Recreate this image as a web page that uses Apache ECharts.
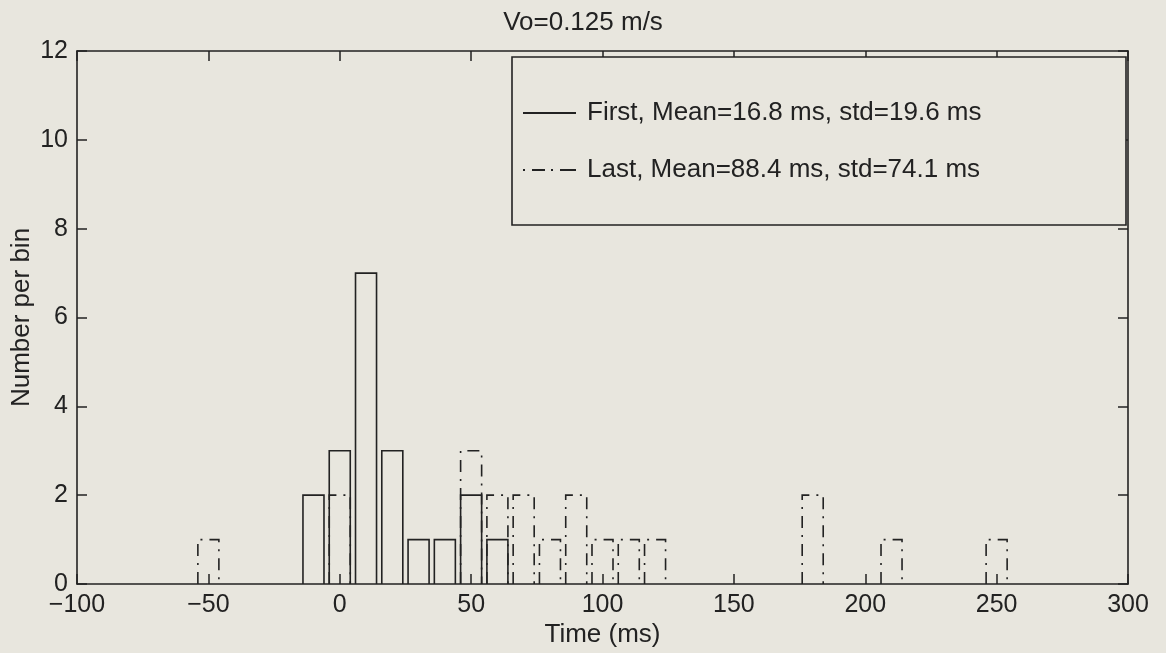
<!DOCTYPE html>
<html>
<head>
<meta charset="utf-8">
<script src="https://cdn.jsdelivr.net/npm/echarts@6/dist/echarts.min.js"></script>
<style>
  html, body { margin: 0; padding: 0; background: #e8e6de; }
  #chart { width: 1166px; height: 653px; }
</style>
</head>
<body>
<div id="chart"></div>
<script>
// ---- data ----
const titleText = 'Vo=0.125 m/s';
const xName = 'Time (ms)';
const yName = 'Number per bin';
const firstName = 'First, Mean=16.8 ms, std=19.6 ms';
const lastName = 'Last, Mean=88.4 ms, std=74.1 ms';
const firstBins = [-10, 0, 10, 20, 30, 40, 50, 60];
const firstCounts = [2, 3, 7, 3, 1, 1, 2, 1];
const lastBins = [-50, 0, 50, 60, 70, 80, 90, 100, 110, 120, 180, 210, 250];
const lastCounts = [1, 2, 3, 2, 2, 1, 2, 1, 1, 1, 2, 1, 1];
const xTicks = [-100, -50, 0, 50, 100, 150, 200, 250, 300];
const yTicks = [0, 2, 4, 6, 8, 10, 12];

// ---- style ----
const ink = '#222222';
const bg = '#e8e6de';
const font = '"Liberation Sans", Arial, Helvetica, sans-serif';
const barHalfWidth = 4; // bar width 0.8 of a 10 ms bin
const dashDot = [12, 7, 2, 7];

function outlineBars(dash) {
  return function (params, api) {
    const c = api.value(0), v = api.value(1);
    const bl = api.coord([c - barHalfWidth, 0]);
    const tl = api.coord([c - barHalfWidth, v]);
    const tr = api.coord([c + barHalfWidth, v]);
    const br = api.coord([c + barHalfWidth, 0]);
    return {
      type: 'polyline',
      shape: { points: [bl, tl, tr, br] },
      style: { stroke: ink, lineWidth: 1.6, fill: null, lineDash: dash || null }
    };
  };
}

const chart = echarts.init(document.getElementById('chart'), null, { renderer: 'canvas' });
const axisCommon = {
  axisLine: { show: true, onZero: false, lineStyle: { color: ink, width: 1.6 } },
  axisTick: { show: true, inside: true, length: 10, lineStyle: { color: ink, width: 1.5 } },
  splitLine: { show: false }
};

chart.setOption({
  backgroundColor: bg,
  animation: false,
  textStyle: { fontFamily: font, color: ink },
  title: {
    text: titleText, left: 'center', top: 5,
    textStyle: { fontFamily: font, fontSize: 26, fontWeight: 'normal', color: ink, lineHeight: 26 }
  },
  grid: { left: 77, right: 38, top: 51, bottom: 69, containLabel: false, outerBoundsMode: 'none' },
  xAxis: [
    Object.assign({
      type: 'value', min: xTicks[0], max: xTicks[xTicks.length - 1], interval: 50,
      position: 'bottom',
      name: xName, nameLocation: 'middle', nameGap: 38, nameMoveOverlap: false,
      nameTextStyle: { fontFamily: font, fontSize: 26, color: ink, lineHeight: 26 },
      axisLabel: { show: true, margin: 9, fontFamily: font, fontSize: 25, color: ink,
        formatter: v => (v < 0 ? '\u2212' + Math.abs(v) : String(v)) }
    }, axisCommon),
    Object.assign({
      type: 'value', min: xTicks[0], max: xTicks[xTicks.length - 1], interval: 50,
      position: 'top', axisLabel: { show: false }
    }, axisCommon)
  ],
  yAxis: [
    Object.assign({
      type: 'value', min: yTicks[0], max: yTicks[yTicks.length - 1], interval: 2,
      position: 'left',
      name: yName, nameLocation: 'middle', nameGap: 42, nameRotate: 90, nameMoveOverlap: false,
      nameTextStyle: { fontFamily: font, fontSize: 26, color: ink, lineHeight: 26 },
      axisLabel: { show: true, margin: 9, fontFamily: font, fontSize: 25, color: ink }
    }, axisCommon),
    Object.assign({
      type: 'value', min: yTicks[0], max: yTicks[yTicks.length - 1], interval: 2,
      position: 'right', axisLabel: { show: false }
    }, axisCommon)
  ],
  legend: {
    orient: 'vertical', left: 523, top: 98, padding: 0, z: 10,
    itemWidth: 53, itemHeight: 2, itemGap: 27,
    selectedMode: false,
    textStyle: { fontFamily: font, fontSize: 26, color: ink, lineHeight: 30, padding: [0, 0, 0, 6] },
    data: [
      { name: firstName, icon: 'path://M0,0H53V2H0Z', itemStyle: { color: ink, borderWidth: 0 } },
      { name: lastName, icon: 'path://M0,0h2v2h-2z M9,0h13v2h-13z M28,0h2v2h-2z M37,0h16v2h-16z',
        itemStyle: { color: ink, borderWidth: 0 } }
    ]
  },
  graphic: [{
    type: 'rect', z: 1,
    shape: { x: 512, y: 57, width: 614, height: 168 },
    style: { fill: bg, stroke: ink, lineWidth: 1.6 }
  }],
  series: [
    {
      name: firstName, type: 'custom', xAxisIndex: 0, yAxisIndex: 0,
      itemStyle: { color: ink },
      renderItem: outlineBars(null),
      data: firstBins.map((b, i) => [b, firstCounts[i]]),
      z: 3
    },
    {
      name: lastName, type: 'custom', xAxisIndex: 0, yAxisIndex: 0,
      itemStyle: { color: ink },
      renderItem: outlineBars(dashDot),
      data: lastBins.map((b, i) => [b, lastCounts[i]]),
      z: 2
    }
  ]
});
</script>
</body>
</html>
